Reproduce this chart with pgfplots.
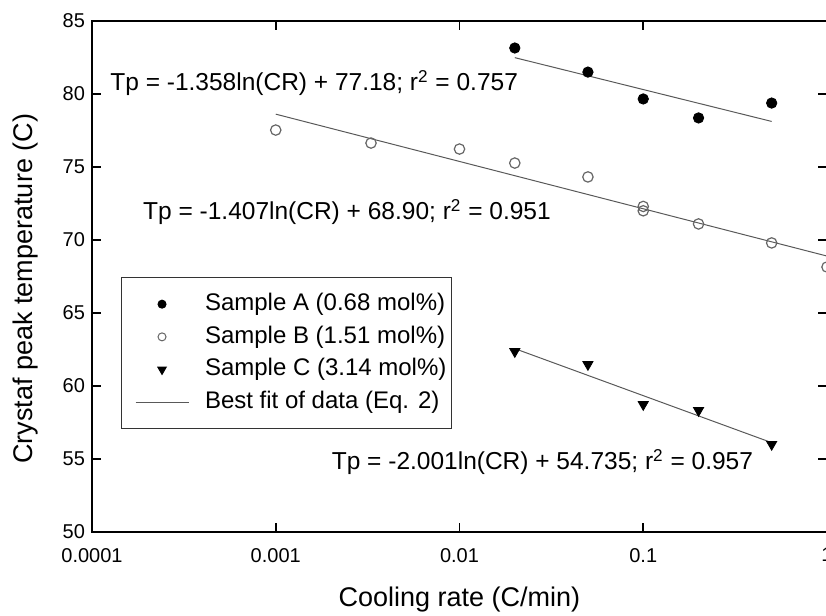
\documentclass[border=0pt]{standalone}
\usepackage{fontspec}
\setmainfont{Liberation Sans}
\usepackage{pgfplots}
\pgfplotsset{compat=1.18}
\pgfplotsset{
  mylegimg/.style={legend image code/.code={\path[draw=none,fill=none] (0pt,0pt) (32.5pt,0pt);\draw[mark repeat=2,mark phase=2,##1] plot coordinates {(6pt,0pt) (19.25pt,0pt) (32.5pt,0pt)};}}
}

\begin{document}
\begin{tikzpicture}
\begin{axis}[
  scale only axis,
  width=367.5pt, height=255.5pt,
  xmode=log,
  xmin=1e-4, xmax=1,
  ymin=50, ymax=85,
  xtick={1e-4,1e-3,1e-2,1e-1,1},
  xticklabels={0.0001,0.001,0.01,0.1,1},
  ytick={50,55,...,85},
  xminorticks=false,
  axis line style={line width=1pt},
  major tick length=4.5pt,
  tick style={line width=0.8pt, black},
  /pgf/number format/assume math mode=true,
  ticklabel style={font=\fontsize{10}{12}\selectfont},
  xticklabel style={yshift=-4.5pt},
  xlabel={Cooling rate (C/min)},
  ylabel={Crystaf peak temperature (C)},
  every axis x label/.style={at={(axis description cs:0.5,-0.133)},anchor=center,font=\fontsize{13.5}{16}\selectfont},
  every axis y label/.style={at={(axis description cs:-0.0898,0.476)},anchor=center,rotate=90,font=\fontsize{13.5}{16}\selectfont},
  legend style={at={(0.0395,0.499)}, anchor=north west, font=\fontsize{12}{14}\selectfont,
    draw=black!80, line width=0.5pt, inner xsep=1pt, inner ysep=5.5pt, row sep=0.7pt, column sep=6.5pt,
    nodes={inner sep=1.5pt, text height=9.5pt, text depth=3.15pt}},
  legend cell align=left,
]
\coordinate (SW) at (rel axis cs:0,0);
\coordinate (NE) at (rel axis cs:1,1);

% fit lines
\addplot[black!65, line width=0.5pt, forget plot] coordinates {(0.02,82.49) (0.5,78.12)};
\addplot[black!65, line width=0.5pt, forget plot] coordinates {(0.001,78.62) (1,68.90)};
\addplot[black!65, line width=0.5pt, forget plot] coordinates {(0.02,62.56) (0.5,56.12)};

% Sample A
\addplot[only marks, mark=*, mark size=2.6pt, black, forget plot] coordinates {
 (0.02,83.15) (0.05,81.5) (0.1,79.66) (0.2,78.36) (0.5,79.38)};
% Sample B
\addplot[only marks, mark=o, mark size=2.6pt, black!60, mark options={line width=0.6pt}, forget plot] coordinates {
 (0.001,77.53) (0.0033,76.64) (0.01,76.23) (0.02,75.27) (0.05,74.32) (0.1,72.3) (0.1,72.0) (0.2,71.1) (0.5,69.8) (1,68.15)};
% Sample C
\addplot[only marks, mark=triangle*, mark size=2.9pt, mark options={rotate=180}, black, forget plot] coordinates {
 (0.02,62.36) (0.05,61.47) (0.1,58.73) (0.2,58.32) (0.5,56.0)};

\addlegendimage{only marks, mark=*, mark size=2pt, black, mylegimg}
\addlegendentry{Sample A (0.68 mol\%)}
\addlegendimage{only marks, mark=o, mark size=2pt, black!60, mylegimg}
\addlegendentry{Sample B (1.51 mol\%)}
\addlegendimage{only marks, mark=triangle*, mark size=2.4pt, mark options={rotate=180}, black, mylegimg}
\addlegendentry{Sample C (3.14 mol\%)}
\addlegendimage{black!65, line width=0.5pt, mylegimg}
\addlegendentry{Best fit of data (Eq. 2)}

\node[anchor=base west, inner sep=0pt, font=\fontsize{12.25}{14}\selectfont] at (axis cs:1.253e-4,80.21) {Tp = -1.358ln(CR) + 77.18; r\textsuperscript{2} = 0.757};
\node[anchor=base west, inner sep=0pt, font=\fontsize{12.25}{14}\selectfont] at (axis cs:1.89e-4,71.37) {Tp = -1.407ln(CR) + 68.90; r\textsuperscript{2} = 0.951};
\node[anchor=base west, inner sep=0pt, font=\fontsize{12.25}{14}\selectfont] at (axis cs:2.01e-3,54.25) {Tp = -2.001ln(CR) + 54.735; r\textsuperscript{2} = 0.957};
\end{axis}
\pgfresetboundingbox
\path[use as bounding box] ([xshift=-46pt,yshift=-41.5pt]SW) rectangle ([xshift=-0.5pt,yshift=10.5pt]NE);
\end{tikzpicture}
\end{document}
